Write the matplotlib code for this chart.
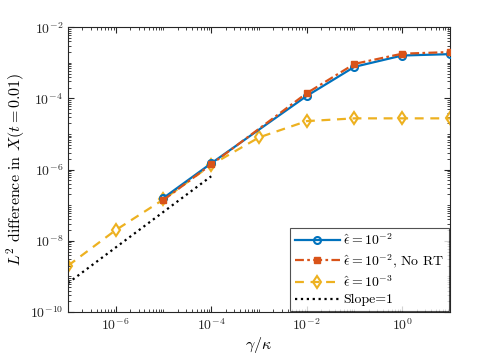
import numpy as np
import matplotlib
matplotlib.use("Agg")
import matplotlib.pyplot as plt
from matplotlib.ticker import LogLocator, NullFormatter

plt.rcParams['mathtext.fontset'] = 'cm'
plt.rcParams['font.family'] = 'serif'
plt.rcParams['font.serif'] = ['cmr10']
plt.rcParams['axes.formatter.use_mathtext'] = True

# datos
x_eps2 = [1e-5, 1e-4, 1e-2, 1e-1, 1e0, 1e1]
y_eps2 = [1.6e-7, 1.5e-6, 1.17e-4, 7.7e-4, 1.6e-3, 1.75e-3]

x_eps2_nort = [1e-5, 1e-4, 1e-2, 1e-1, 1e0, 1e1]
y_eps2_nort = [1.4e-7, 1.4e-6, 1.4e-4, 9.3e-4, 1.8e-3, 2.0e-3]

x_eps3 = [1e-7, 1e-6, 1e-5, 1e-4, 1e-3, 1e-2, 1e-1, 1e0, 1e1]
y_eps3 = [2e-9, 2e-8, 1.45e-7, 1.35e-6, 8e-6, 2.3e-5, 2.75e-5, 2.75e-5, 2.75e-5]

x_slope = [1e-7, 1e-4]
y_slope = [6.5e-10, 6.5e-7]

labels = [r'$\hat{\epsilon}=10^{-2}$',
          r'$\hat{\epsilon}=10^{-2}$, No RT',
          r'$\hat{\epsilon}=10^{-3}$',
          'Slope=1']

azul = '#0072BD'
naranja = '#D95319'
amarillo = '#EDB120'

fig = plt.figure(figsize=(4.98, 3.61), dpi=100)
ax = fig.add_axes([0.1365, 0.1357, 0.767, 0.789])

ax.loglog(x_eps2, y_eps2, '-o', color=azul, lw=1.6, ms=5,
          mfc='none', mew=1.5, label=labels[0], zorder=3)
ax.loglog(x_eps2_nort, y_eps2_nort, '-.s', color=naranja, lw=1.6, ms=5,
          mfc=naranja, mew=1.0, dashes=(4, 1.5, 1.2, 1.5), label=labels[1],
          zorder=3.5)
ax.loglog(x_eps3, y_eps3, '--d', color=amarillo, lw=1.6, ms=6,
          mfc='none', mew=1.5, dashes=(4, 3), label=labels[2], zorder=2.5)
ax.loglog(x_slope, y_slope, ':', color='k', lw=1.6, label=labels[3])

ax.set_xlim(1e-7, 1e1)
ax.set_ylim(1e-10, 1e-2)
ax.set_xticks([1e-6, 1e-4, 1e-2, 1e0])
ax.set_yticks([1e-10, 1e-8, 1e-6, 1e-4, 1e-2])
ax.xaxis.set_minor_locator(LogLocator(base=10, subs=np.arange(1, 10), numticks=50))
ax.yaxis.set_minor_locator(LogLocator(base=10, subs=np.arange(1, 10), numticks=50))
ax.xaxis.set_minor_formatter(NullFormatter())
ax.yaxis.set_minor_formatter(NullFormatter())

gris = '#262626'
for s in ax.spines.values():
    s.set_color(gris)
    s.set_linewidth(0.8)
ax.tick_params(which='both', direction='in', top=True, right=True, colors=gris,
               labelsize=10)
ax.tick_params(which='major', length=4)
ax.tick_params(which='minor', length=2)

ax.set_xlabel(r'$\gamma/\kappa$', fontsize=11.5, labelpad=2)
ax.set_ylabel(r'$L^2$ difference in $X(t=0.01)$', fontsize=11.5, labelpad=2)

leg = ax.legend(loc='lower right', fontsize=10, frameon=True, fancybox=False,
                borderaxespad=0.1, handlelength=3.3, handletextpad=0.2,
                labelspacing=0.3, borderpad=0.3)
leg.get_frame().set_edgecolor(gris)
leg.get_frame().set_linewidth(0.8)

fig.savefig('out.png', dpi=100)
